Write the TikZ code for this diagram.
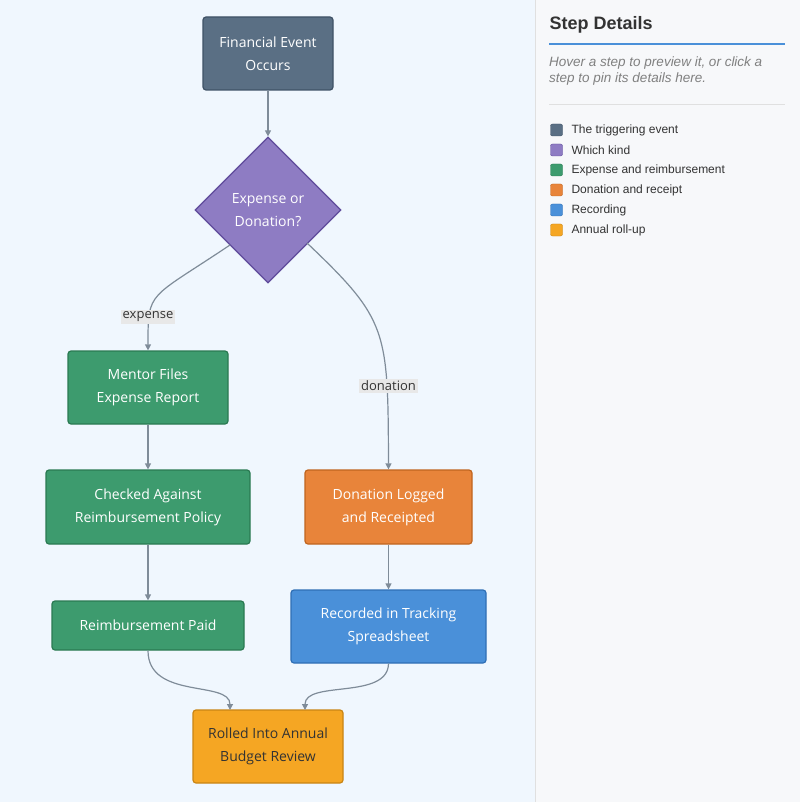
\documentclass[tikz,border=0pt]{standalone}
\usepackage{fontspec}
\setmainfont{Liberation Sans}
\newfontfamily\nodefont{Open Sans}
\usetikzlibrary{positioning,shapes.geometric,arrows.meta}
\definecolor{canvas}{HTML}{F0F7FE}
\definecolor{panel}{HTML}{F7F8FA}
\definecolor{edge}{HTML}{7F8C99}
\definecolor{evfill}{HTML}{5A6F84}\definecolor{evline}{HTML}{3F5266}
\definecolor{decfill}{HTML}{8E7CC3}\definecolor{decline}{HTML}{5F4B9B}
\definecolor{expfill}{HTML}{3D9B6E}\definecolor{expline}{HTML}{2A7A52}
\definecolor{donfill}{HTML}{E8843A}\definecolor{donline}{HTML}{C0651F}
\definecolor{recfill}{HTML}{4A90D9}\definecolor{recline}{HTML}{2F6FB5}
\definecolor{sumfill}{HTML}{F5A623}\definecolor{sumline}{HTML}{C98514}
\begin{document}
\begin{tikzpicture}[x=1pt,y=-1pt,
stepbox/.style={rectangle, rounded corners=3pt, line width=1.2pt, text=white, align=center, font=\nodefont\fontsize{14}{23}\selectfont, inner sep=0pt},
decision/.style={diamond, line width=1.2pt, text=white, align=center, font=\nodefont\fontsize{14}{23}\selectfont, minimum width=146pt, minimum height=146pt, inner sep=0pt},
flow/.style={draw=edge, line width=1.2pt, -{Triangle[length=6pt,width=6pt]}},
tag/.style={fill=black!9, font=\nodefont\fontsize{13}{15}\selectfont, text=black!80, inner sep=2pt},
key/.style={rectangle, rounded corners=2pt, draw=black!70, minimum size=12pt, inner sep=0pt},
keytext/.style={anchor=west, font=\fontsize{12}{14}\selectfont, text=black!80},
]
\useasboundingbox (0,0) rectangle (800,802);
\fill[canvas] (0,0) rectangle (535,802);
\fill[panel] (535,0) rectangle (800,802);
\draw[black!12] (535,0) -- (535,802);

%Flow nodes
\node[stepbox, fill=evfill, draw=evline, minimum width=130pt, minimum height=73pt] (event) at (268,53.5) {Financial Event\\Occurs};
\node[decision, fill=decfill, draw=decline] (kind) at (268,210) {Expense or\\Donation?};
\node[stepbox, fill=expfill, draw=expline, minimum width=160pt, minimum height=73pt] (files) at (148,387.5) {Mentor Files\\Expense Report};
\node[stepbox, fill=expfill, draw=expline, minimum width=204pt, minimum height=74pt] (policy) at (148,507) {Checked Against\\Reimbursement Policy};
\node[stepbox, fill=expfill, draw=expline, minimum width=192pt, minimum height=49pt] (paid) at (148,625.5) {Reimbursement Paid};
\node[stepbox, fill=donfill, draw=donline, minimum width=167pt, minimum height=74pt] (logged) at (388.5,507) {Donation Logged\\and Receipted};
\node[stepbox, fill=recfill, draw=recline, minimum width=195pt, minimum height=73pt] (sheet) at (388.5,626.5) {Recorded in Tracking\\Spreadsheet};
\node[stepbox, fill=sumfill, draw=sumline, minimum width=150pt, minimum height=73pt, text=black!80] (review) at (268,746.5) {Rolled Into Annual\\Budget Review};

%Connections
\coordinate (kx) at (230,245);
\coordinate (ky) at (307,243);
\coordinate (rx) at (230,710);
\coordinate (ry) at (305,710);
\draw[flow] (kx) .. controls (148,300) and (148,290) .. (files.north);
\draw[flow] (ky) .. controls (388,320) and (388,330) .. (logged.north);
\node[tag] (lexp) at (148,317) {expense};
\node[tag] (ldon) at (388.5,386) {donation};
\draw[flow] (event) -- (kind);
\draw[flow] (files) -- (policy);
\draw[flow] (policy) -- (paid);
\draw[flow] (logged) -- (sheet);
\draw[flow] (paid.south) .. controls (148,700) and (230,680) .. (rx);
\draw[flow] (sheet.south) .. controls (388,700) and (305,680) .. (ry);

%Side panel
\node[anchor=west, font=\bfseries\fontsize{18}{20}\selectfont, text=black!80] (title) at (546,25) {Step Details};
\draw[recfill, line width=2pt] (549,44) -- (785,44);
\node[anchor=north west, align=left, font=\itshape\fontsize{13.5}{16}\selectfont, text=black!50, inner sep=0pt] (hint) at (549,57) {Hover a step to preview it, or click a\\step to pin its details here.};
\draw[black!12] (549,104) -- (785,104);
\foreach \c/\d/\t [count=\i] in {evfill/evline/The triggering event, decfill/decline/Which kind, expfill/expline/Expense and reimbursement, donfill/donline/Donation and receipt, recfill/recline/Recording, sumfill/sumline/Annual roll-up}{
  \node[key, fill=\c, draw=\d] (k\i) at (556.5,{130+20*(\i-1)}) {};
  \node[keytext] at (568,{130+20*(\i-1)}) {\t};
}
\end{tikzpicture}
\end{document}
